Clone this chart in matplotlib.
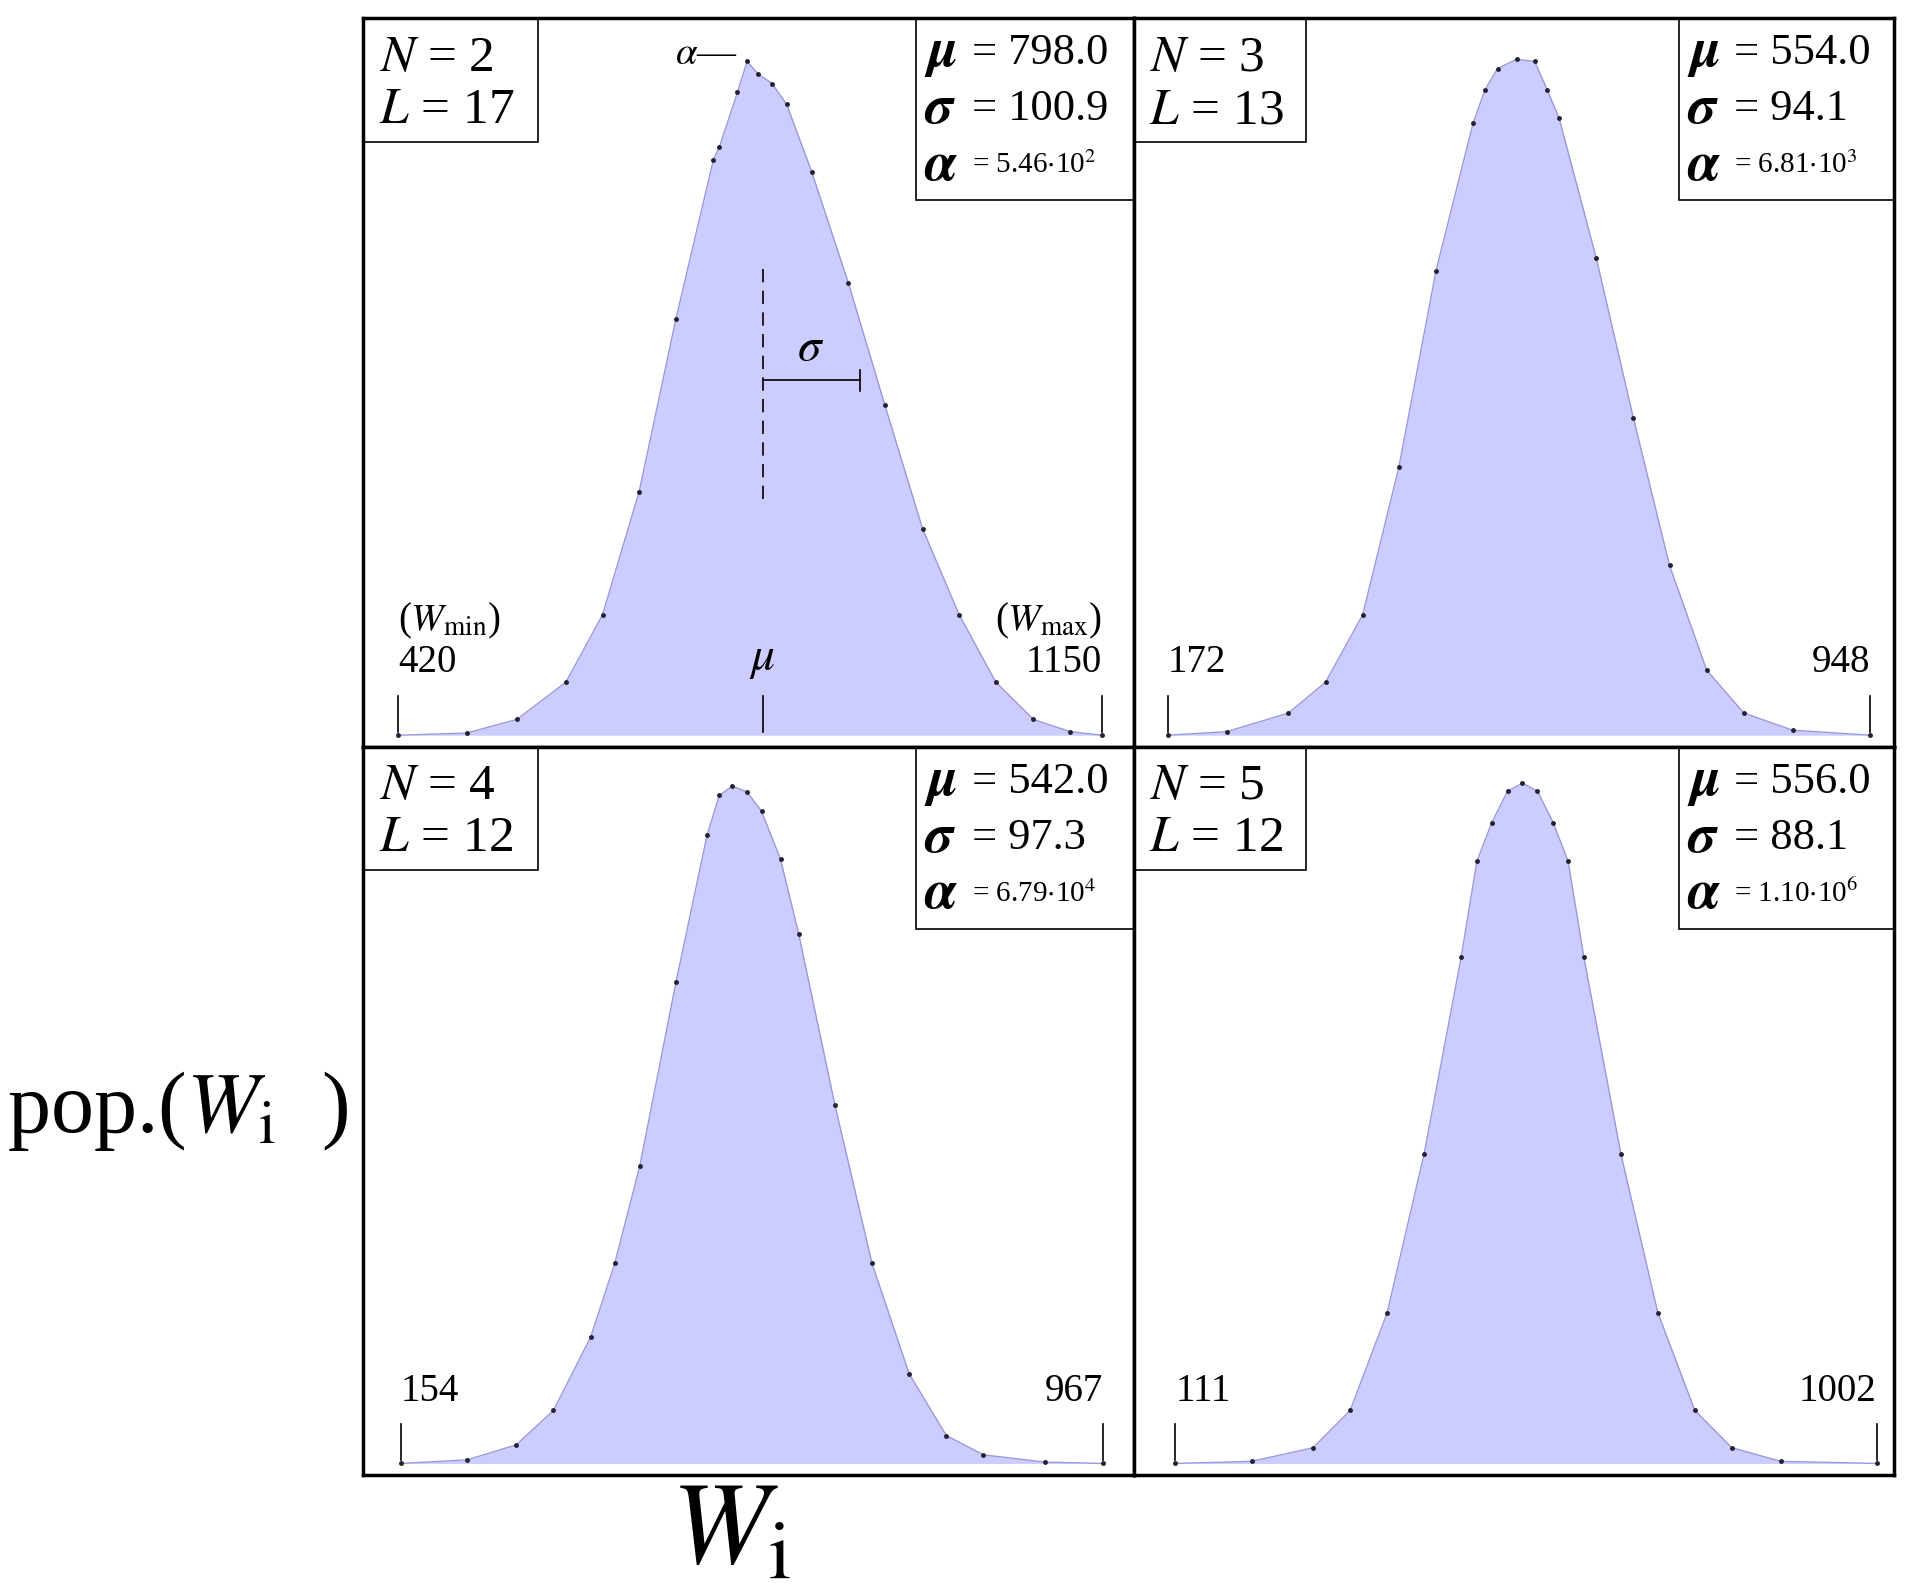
import matplotlib
matplotlib.use('Agg')
import matplotlib.pyplot as plt
from matplotlib.patches import Rectangle

plt.rcParams['font.family'] = ['Liberation Serif', 'DejaVu Serif']
plt.rcParams['mathtext.fontset'] = 'stix'

# values: W and height (fraction of panel height)
w_n2 = [420, 491, 543, 594, 632, 670, 708, 747, 753, 772, 782, 793, 808, 823, 849, 887, 925, 964, 1002, 1040, 1079, 1117, 1150]
h_n2 = [0, .003, .022, .074, .168, .340, .580, .803, .82, .897, .94, .923, .909, .880, .786, .631, .460, .288, .168, .074, .022, .005, 0]
w_n3 = [172, 237, 305, 346, 387, 427, 468, 509, 522, 536, 557, 577, 591, 604, 645, 686, 726, 767, 808, 862, 948]
h_n3 = [0, .005, .031, .074, .168, .374, .648, .854, .90, .93, .943, .94, .90, .861, .666, .443, .237, .091, .031, .007, 0]
w_n4 = [154, 231, 288, 331, 374, 402, 431, 473, 509, 523, 538, 555, 572, 594, 615, 657, 700, 743, 786, 829, 900, 967]
h_n4 = [0, .005, .026, .074, .176, .279, .415, .672, .877, .932, .945, .937, .91, .843, .739, .5, .279, .125, .039, .012, .002, 0]
w_n5 = [111, 208, 286, 333, 380, 427, 474, 494, 513, 533, 552, 571, 591, 610, 630, 677, 724, 771, 818, 880, 1002]
h_n5 = [0, .003, .022, .074, .21, .432, .706, .84, .894, .938, .949, .938, .894, .84, .706, .432, .21, .074, .022, .003, 0]

n_vals = [2, 3, 4, 5]
l_vals = [17, 13, 12, 12]
mu_vals = ['798.0', '554.0', '542.0', '556.0']
sigma_vals = ['100.9', '94.1', '97.3', '88.1']
alpha_vals = [r'5.46$\cdot$10$^2$', r'6.81$\cdot$10$^3$', r'6.79$\cdot$10$^4$', r'1.10$\cdot$10$^6$']
w_min = [420, 172, 154, 111]
w_max = [1150, 948, 967, 1002]
xlims = [(384, 1183), (134, 974), (111, 1003), (58, 1024)]

series = [(w_n2, h_n2), (w_n3, h_n3), (w_n4, h_n4), (w_n5, h_n5)]

fig = plt.figure(figsize=(19.16, 15.88), dpi=100)
xs = [0.1897, 0.5917, 0.9885]
ys = [0.9884, 0.5298, 0.0712]
boxes = [(xs[0], ys[1], xs[1] - xs[0], ys[0] - ys[1]),
         (xs[1], ys[1], xs[2] - xs[1], ys[0] - ys[1]),
         (xs[0], ys[2], xs[1] - xs[0], ys[1] - ys[2]),
         (xs[1], ys[2], xs[2] - xs[1], ys[1] - ys[2])]

for i, (w, h) in enumerate(series):
    ax = fig.add_axes(boxes[i])
    ax.fill_between(w, h, color='#ccccff', lw=0)
    ax.plot(w, h, color='#9999dd', lw=1)
    ax.plot(w, h, ls='none', marker='.', ms=5, color='#222233')
    ax.set_xlim(*xlims[i])
    ax.set_ylim(-0.016, 1.0)
    ax.set_xticks([])
    ax.set_yticks([])
    for s in ax.spines.values():
        s.set_linewidth(2.5)

    # end ticks and labels
    for wv in (w_min[i], w_max[i]):
        ax.plot([wv, wv], [0.005, 0.055], color='black', lw=1.2)
        ax.text(wv, 0.075, str(wv), fontsize=28,
                ha='left' if wv == w_min[i] else 'right', va='bottom')

    # N / L box
    ax.add_patch(Rectangle((0, 0.83), 0.227, 0.17, transform=ax.transAxes,
                           fill=False, lw=1.2, clip_on=False))
    ax.text(0.02, 0.945, f'$N$ = {n_vals[i]}', transform=ax.transAxes, fontsize=37, va='center')
    ax.text(0.02, 0.873, f'$L$ = {l_vals[i]}', transform=ax.transAxes, fontsize=37, va='center')

    # mu / sigma / alpha box
    ax.add_patch(Rectangle((0.717, 0.75), 0.283, 0.25, transform=ax.transAxes,
                           fill=False, lw=1.2, clip_on=False))
    for k, (sym, val, fs) in enumerate([(r'$\boldsymbol{\mu}$', mu_vals[i], 32),
                                        (r'$\boldsymbol{\sigma}$', sigma_vals[i], 32),
                                        (r'$\boldsymbol{\alpha}$', alpha_vals[i], 21)]):
        yy = 0.952 - k * 0.077
        ax.text(0.728, yy, sym, transform=ax.transAxes, fontsize=40, va='center')
        ax.text(0.79, yy, '= ' + val, transform=ax.transAxes, fontsize=fs, va='center')

    if i == 0:
        ax.plot([798, 798], [0.33, 0.65], color='black', lw=1.2, ls=(0, (8, 5)))
        ax.plot([798, 899], [0.495, 0.495], color='black', lw=1.2)
        ax.plot([899, 899], [0.48, 0.51], color='black', lw=1.2)
        ax.text(848, 0.51, r'$\sigma$', fontsize=34, ha='center', va='bottom',
                family='DejaVu Sans')
        ax.plot([798, 798], [0.005, 0.055], color='black', lw=1.2)
        ax.text(798, 0.075, r'$\mu$', fontsize=34, ha='center', va='bottom')
        ax.text(740, 0.95, r'$\alpha$—', fontsize=28, ha='center', va='center')
        ax.text(420, 0.16, r'($W_{\rm min}$)', fontsize=28, ha='left', va='center')
        ax.text(1150, 0.16, r'($W_{\rm max}$)', fontsize=28, ha='right', va='center')

fig.text(0.093, 1 - 905 / 1293, r'pop.($W_{\rm i}$  )', fontsize=62, ha='center', va='center')
fig.text(595 / 1560, 1 - 1250 / 1293, r'$W_{\rm i}$', fontsize=84, ha='center', va='center')

fig.savefig('out.png', dpi=100)
